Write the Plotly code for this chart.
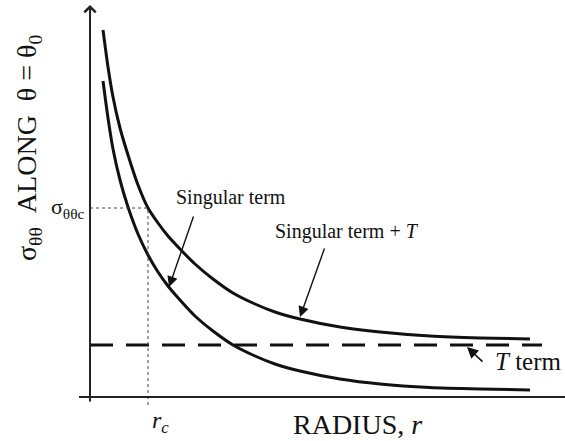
import plotly.graph_objects as go

# Radius (arbitrary units) and hoop stress along theta = theta_0
r_grid = [0.26, 0.36, 0.46, 0.60, 0.76, 0.96, 1.16, 1.36, 1.56, 1.80, 2.10,
          2.46, 2.86, 3.30, 3.70, 4.20, 5.00, 5.80, 6.80, 7.80, 8.80]
s_singular = [6.32, 5.58, 4.96, 4.34, 3.80, 3.26, 2.84, 2.50, 2.22, 1.94, 1.62,
              1.32, 1.04, 0.82, 0.66, 0.52, 0.36, 0.26, 0.19, 0.16, 0.14]
s_total = [7.34, 6.60, 6.00, 5.38, 4.84, 4.24, 3.78, 3.48, 3.22, 2.96, 2.66,
           2.36, 2.08, 1.86, 1.70, 1.56, 1.40, 1.30, 1.22, 1.18, 1.16]

t_term = 1.04           # constant T stress
t_extent = [0.0, 9.04]  # radial extent of the T line
r_c = 1.16              # critical radius
sigma_c = 3.78          # critical stress (singular + T at r_c)

FONT = "Liberation Serif"
INK = "#111111"

fig = go.Figure()

curve_line = dict(color=INK, width=3, shape="spline", smoothing=0.6)
fig.add_trace(go.Scatter(x=r_grid, y=s_total, mode="lines", line=curve_line,
                         hoverinfo="skip", showlegend=False))
fig.add_trace(go.Scatter(x=r_grid, y=s_singular, mode="lines", line=curve_line,
                         hoverinfo="skip", showlegend=False))
fig.add_trace(go.Scatter(x=t_extent, y=[t_term, t_term], mode="lines",
                         line=dict(color=INK, width=3, dash="23px,13px"),
                         hoverinfo="skip", showlegend=False))

# critical point guide lines
fig.add_shape(type="line", x0=r_c, x1=r_c, y0=-0.16, y1=sigma_c,
              line=dict(color="#444", width=1, dash="dot"))
fig.add_shape(type="line", x0=0, x1=r_c, y0=sigma_c, y1=sigma_c,
              line=dict(color="#444", width=1, dash="dot"))

# horizontal axis
fig.add_shape(type="line", x0=-0.22, x1=9.5, y0=0, y1=0,
              line=dict(color="#222", width=2))

annotations = [
    # vertical axis with open arrowhead
    dict(x=0, y=7.84, ax=0, ay=-0.12, axref="x", ayref="y", xref="x", yref="y",
         showarrow=True, arrowhead=4, arrowwidth=2, arrowsize=1.1, arrowcolor="#222", text=""),
    # pointer arrows
    dict(x=1.58, y=2.2, ax=2.08, ay=3.64, axref="x", ayref="y",
         showarrow=True, arrowhead=2, arrowwidth=1.4, arrowsize=1.5, arrowcolor=INK, text=""),
    dict(x=4.2, y=1.6, ax=4.7, ay=3.0, axref="x", ayref="y",
         showarrow=True, arrowhead=2, arrowwidth=1.4, arrowsize=1.5, arrowcolor=INK, text=""),
    dict(x=7.54, y=1.0, ax=7.88, ay=0.68, axref="x", ayref="y",
         showarrow=True, arrowhead=2, arrowwidth=1.6, arrowsize=1.4, arrowcolor=INK, text=""),
    # labels
    dict(x=-1.24, y=4.98, text="σ<sub>θθ</sub>\u00a0\u00a0ALONG\u00a0\u00a0θ = θ<sub>0</sub>",
         textangle=-90, showarrow=False, font=dict(family=FONT, size=28, color=INK)),
    dict(x=0, y=sigma_c, xshift=-3, xanchor="right", text="σ<sub>θθc</sub>",
         showarrow=False, font=dict(family=FONT, size=22, color=INK)),
    dict(x=r_c, y=-0.5, xshift=12, text="<i>r<sub>c</sub></i>",
         showarrow=False, font=dict(family=FONT, size=24, color=INK)),
    dict(x=5.34, y=-0.54, text="RADIUS, <i>r</i>",
         showarrow=False, font=dict(family=FONT, size=28, color=INK)),
    dict(x=2.82, y=4.0, text="Singular term",
         showarrow=False, font=dict(family=FONT, size=20, color=INK)),
    dict(x=5.14, y=3.32, text="Singular term + <i>T</i>",
         showarrow=False, font=dict(family=FONT, size=20, color=INK)),
    dict(x=8.76, y=0.72, text="<i>T</i> term",
         showarrow=False, font=dict(family=FONT, size=25, color=INK)),
]

fig.update_layout(
    width=565, height=441, autosize=False,
    margin=dict(l=0, r=0, t=0, b=0),
    paper_bgcolor="white", plot_bgcolor="white",
    xaxis=dict(range=[-1.8, 9.5], visible=False, fixedrange=True),
    yaxis=dict(range=[-0.88, 7.94], visible=False, fixedrange=True),
    annotations=annotations,
    showlegend=False,
)

fig.write_html("out.html")
